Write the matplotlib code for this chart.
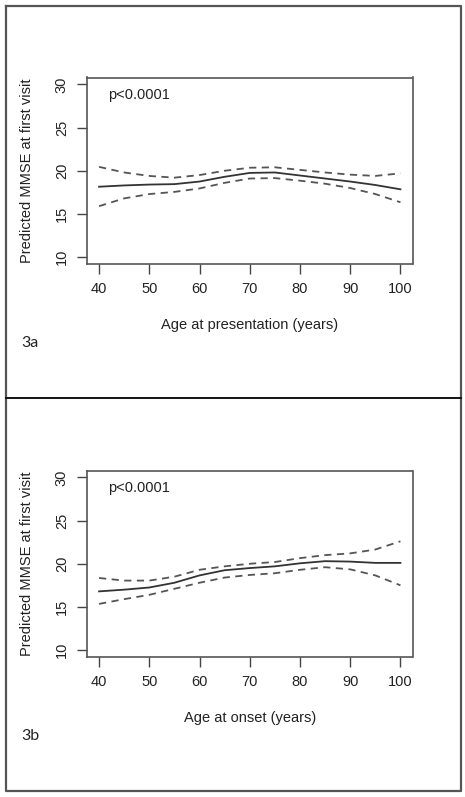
import matplotlib.pyplot as plt
from matplotlib.lines import Line2D

plt.rcParams['font.family'] = ['Liberation Sans', 'DejaVu Sans']

# Werte
age = [40, 45, 50, 55, 60, 65, 70, 75, 80, 85, 90, 95, 100]

a_fit = [18.15, 18.3, 18.4, 18.45, 18.75, 19.3, 19.75, 19.8, 19.45, 19.1, 18.75, 18.35, 17.85]
a_upper = [20.45, 19.8, 19.4, 19.2, 19.5, 20.0, 20.35, 20.4, 20.1, 19.8, 19.55, 19.4, 19.7]
a_lower = [15.9, 16.8, 17.3, 17.55, 17.95, 18.6, 19.1, 19.15, 18.85, 18.5, 18.0, 17.3, 16.35]

b_fit = [16.8, 17.0, 17.25, 17.8, 18.65, 19.25, 19.5, 19.7, 20.05, 20.3, 20.25, 20.1, 20.1]
b_upper = [18.35, 18.05, 18.05, 18.5, 19.3, 19.7, 20.0, 20.2, 20.65, 21.0, 21.2, 21.65, 22.6]
b_lower = [15.35, 15.9, 16.4, 17.1, 17.8, 18.4, 18.7, 18.9, 19.3, 19.6, 19.35, 18.65, 17.5]

yticks = [10, 15, 20, 25, 30]
xticks = [40, 50, 60, 70, 80, 90, 100]

W, H = 465, 797
fig = plt.figure(figsize=(W / 100, H / 100), dpi=100)

panels = [
    (a_fit, a_upper, a_lower, "Age at presentation (years)", "3a", 0),
    (b_fit, b_upper, b_lower, "Age at onset (years)", "3b", 393),
]

for fit, upper, lower, xlabel, tag, dy in panels:
    left, right = 87, 412.5
    top, bottom = 77.5 + dy, 264 + dy
    ax = fig.add_axes([left / W, 1 - bottom / H, (right - left) / W, (bottom - top) / H])
    ax.plot(age, fit, color='#333333', lw=1.3)
    ax.plot(age, upper, color='#555555', lw=1.3, dashes=(4, 3))
    ax.plot(age, lower, color='#555555', lw=1.3, dashes=(4, 3))
    ax.set_xlim(37.6, 102.4)
    ax.set_ylim(9.2, 30.8)
    ax.set_xticks(xticks)
    ax.set_yticks(yticks)
    ax.set_yticklabels([str(t) for t in yticks], rotation=90, va='center')
    ax.tick_params(direction='out', length=7, width=1, color='#444444',
                   labelsize=10.5, labelcolor='#222222', pad=6)
    for s in ax.spines.values():
        s.set_color('#555555')
        s.set_linewidth(1.2)
    ax.text(0.065, 0.905, "p<0.0001", transform=ax.transAxes, fontsize=10.5,
            color='#222222', va='center', ha='left')
    fig.text(250 / W, 1 - (325 + dy) / H, xlabel, ha='center', va='center',
             fontsize=10.5, color='#222222')
    fig.text(27 / W, 1 - (171 + dy) / H, "Predicted MMSE at first visit", ha='center',
             va='center', rotation=90, fontsize=10.5, color='#222222')
    fig.text(21 / W, 1 - (343 + dy) / H, tag, ha='left', va='center',
             fontsize=11.5, color='#222222', family=['Lato', 'DejaVu Sans'])

# Rahmen um beide Teilabbildungen
def px_line(xs, ys, c, lw):
    fig.add_artist(Line2D([x / W for x in xs], [1 - y / H for y in ys],
                          color=c, lw=lw, transform=fig.transFigure))

px_line([6, 461, 461, 6, 6], [5.5, 5.5, 791, 791, 5.5], '#555555', 1.6)
px_line([6, 461], [398, 398], '#111111', 1.4)

fig.savefig("out.png", dpi=100)
